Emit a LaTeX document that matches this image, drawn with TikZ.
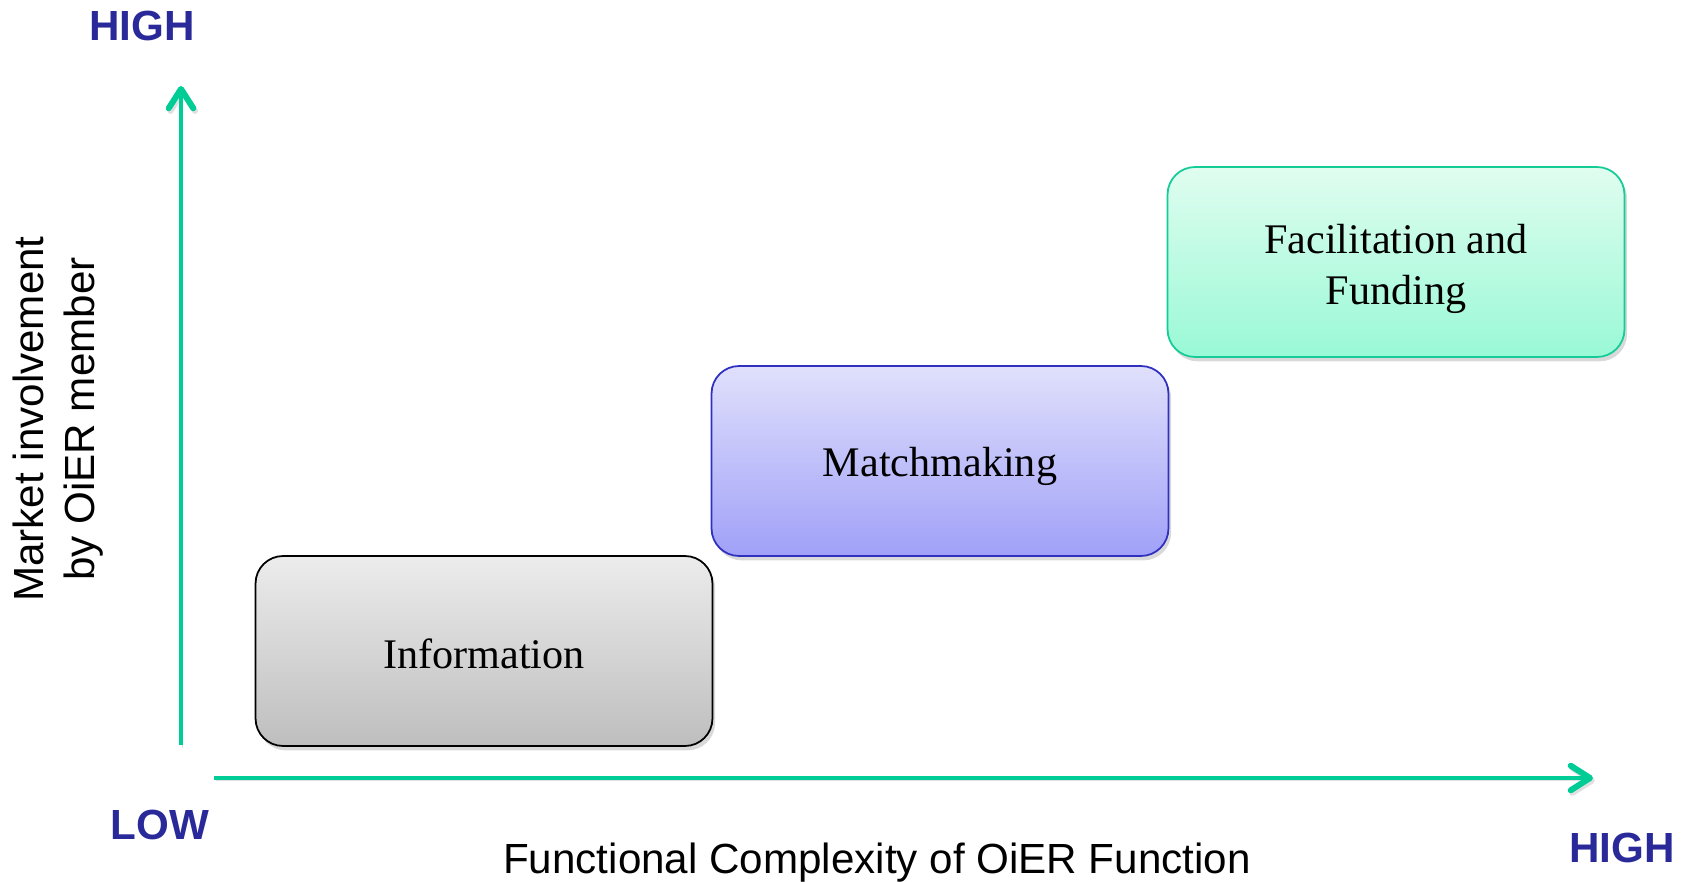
\documentclass[tikz,border=0pt]{standalone}
\usepackage{fontspec}
\setmainfont{Liberation Serif}
\setsansfont{Liberation Sans}
\usetikzlibrary{arrows.meta, positioning, shadows}
\definecolor{axisColor}{RGB}{0,204,150}
\definecolor{levelColor}{RGB}{41,41,153}
\definecolor{infoTop}{RGB}{236,236,236}
\definecolor{infoBottom}{RGB}{190,190,190}
\definecolor{matchTop}{RGB}{224,224,252}
\definecolor{matchBottom}{RGB}{160,160,248}
\definecolor{matchBorder}{RGB}{48,48,192}
\definecolor{facTop}{RGB}{224,253,240}
\definecolor{facBottom}{RGB}{153,249,214}
\definecolor{facBorder}{RGB}{20,204,150}

\begin{document}
\begin{tikzpicture}[
    x=0.02cm, y=-0.02cm,
    stage/.style={line width=1pt, minimum width=9.14cm, minimum height=3.8cm, rounded corners=0.55cm, align=center,
        font=\fontsize{24}{29}\selectfont, drop shadow={opacity=0.3, shadow xshift=1.5pt, shadow yshift=-2.5pt}},
    axis/.style={draw=axisColor, line width=2.8pt, -{Straight Barb[length=11pt, width=14pt, line width=3.4pt, line cap=round, line join=round]},
        preaction={draw=black, opacity=0.12, transform canvas={xshift=1pt, yshift=-1.5pt}}},
    level/.style={text=levelColor, font=\sffamily\bfseries\fontsize{24}{29}\selectfont},
    axis_text/.style={font=\sffamily\fontsize{24}{29}\selectfont, align=center}
]

% Frame of the picture
\useasboundingbox (0,0) rectangle (1694,882);

% Axis end points
\coordinate (yfrom) at (181,745);
\coordinate (yto) at (181,86);
\coordinate (xfrom) at (214,778);
\coordinate (xto) at (1593,778);

% Axes
\draw[axis] (yfrom) -- (yto);
\draw[axis] (xfrom) -- (xto);

% Stages, stepping up to the right
\node[stage, draw=black, top color=infoTop, bottom color=infoBottom, text height=20pt, text depth=0pt] (info) at (484,651) {Information};
\node[stage, draw=matchBorder, top color=matchTop, bottom color=matchBottom, text height=22.5pt] (match) at (940,461) {Matchmaking};
\node[stage, draw=facBorder, top color=facTop, bottom color=facBottom, text height=53pt] (fac) at (1396,262) {Facilitation and\\Funding};

% Level labels
\node[level] (yhigh) at (142,26) {HIGH};
\node[level] (low) at (160,825) {LOW};
\node[level] (xhigh) at (1622,848) {HIGH};

% Axis titles
\node[axis_text] (xtitle) at (877,863) {Functional Complexity of OiER Function};
\node[axis_text, rotate=90] (ytitle) at (58,419) {Market involvement\\by OiER member};

\end{tikzpicture}
\end{document}
